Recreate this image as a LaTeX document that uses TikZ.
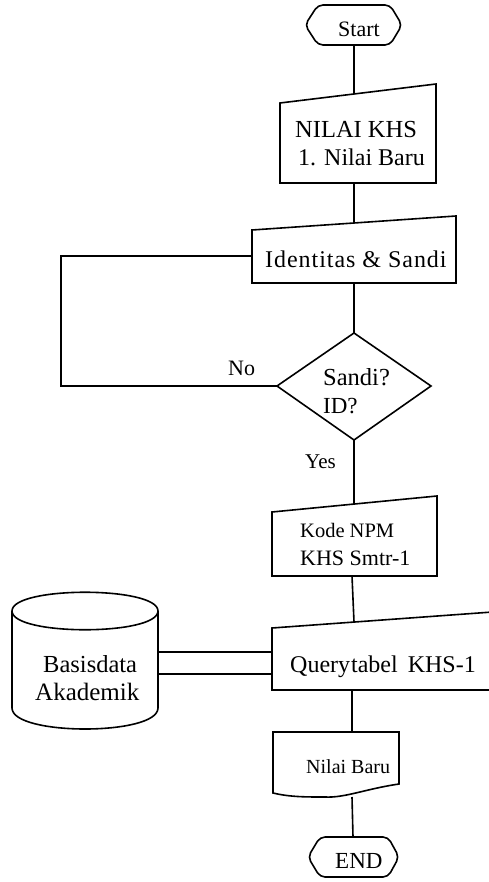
\documentclass[tikz,border=0pt]{standalone}
\usepackage{fontspec}
\setmainfont{Liberation Serif}
\tikzset{
  lbl/.style={anchor=base west, inner sep=0pt, font=\fontsize{#1}{#1}\selectfont},
  lbl/.default=23,
  shp/.style={line width=1.6pt, line join=miter},
  wire/.style={line width=1.6pt}
}
\begin{document}
\begin{tikzpicture}[x=1pt,y=-1pt]
\clip (0,0) rectangle (489,882);
% terminal Start
\draw[shp,rounded corners=5pt] (318,5)--(390,5)--(402,25)--(390,45)--(318,45)--(305,25)--cycle;
\node[lbl=22] (start) at (338,37) {Start};
\coordinate (startout) at (354,45);
% input NILAI KHS
\draw[shp] (280,103)--(436,84)--(436,183)--(280,183)--cycle;
\node[lbl=24.5] (nilaikhs) at (295,138) {NILAI KHS};
\node[lbl=24] (nilaibaru1) at (298,166) {1. Nilai Baru};
\coordinate (nkin) at (354,94);
\coordinate (nkout) at (354,183);
% input Identitas
\draw[shp] (252,230)--(456,216)--(456,283)--(252,283)--cycle;
\node[lbl=24] (ident) at (265,268) {\addfontfeature{LetterSpace=4}Identitas \& Sandi};
\coordinate (idin) at (354,223);
\coordinate (idout) at (354,283);
\coordinate (idleft) at (252,256);
% decision
\draw[shp] (354,333)--(431,386)--(354,440)--(277,386)--cycle;
\node[lbl=24.5] (sandi) at (323,385) {Sandi?};
\node[lbl] (idq) at (323,413) {ID?};
\coordinate (dectop) at (354,333);
\coordinate (decleft) at (277,386);
\coordinate (decbot) at (354,440);
\coordinate (loopa) at (61,386);
\coordinate (loopb) at (61,256);
\node[lbl=22] (no) at (228,375) {No};
\node[lbl=21] (yes) at (305,468) {Yes};
% input Kode NPM
\draw[shp] (272,512)--(437,496)--(437,576)--(272,576)--cycle;
\node[lbl=20.5] (kode) at (300,537) {Kode NPM};
\node[lbl=22] (smtr) at (300,565) {KHS Smtr-1};
\coordinate (kodein) at (354,504);
\coordinate (kodeout) at (352,576);
% query
\draw[shp] (272,628)--(520,610)--(520,690)--(272,690)--cycle;
\node[lbl=24] (query) at (290,672) {Query\hspace{1pt}tabel\hspace{10pt}KHS-1};
\coordinate (qin) at (354,622);
\coordinate (qout) at (352,690);
\coordinate (qa) at (272,652);
\coordinate (qb) at (272,674);
% database
\draw[shp] (12,611) .. controls (12,586) and (158,586) .. (158,611)
  .. controls (158,636) and (12,636) .. (12,611);
\draw[shp] (12,611)--(12,708) .. controls (12,736) and (158,736) .. (158,708)--(158,611);
\node[lbl=24.5] (basis) at (43,672) {Basisdata};
\node[lbl=25] (akad) at (35,700) {Akademik};
\coordinate (dba) at (159,652);
\coordinate (dbb) at (159,674);
% document Nilai Baru
\draw[shp] (273,732)--(399,732)--(399,784) .. controls (365,789) and (345,798) .. (325,797)
  .. controls (305,797) and (290,797) .. (273,793)--cycle;
\node[lbl=20] (baru) at (306,773) {Nilai Baru};
\coordinate (docin) at (352,732);
\coordinate (docout) at (352,797);
% terminal END
\draw[shp,rounded corners=5pt] (320,837)--(388,837)--(399,857)--(388,877)--(320,877)--(308,857)--cycle;
\node[lbl] (endn) at (335,868) {END};
\coordinate (endin) at (353,837);
% connectors
\draw[wire] (startout)--(nkin);
\draw[wire] (nkout)--(idin);
\draw[wire] (idout)--(dectop);
\draw[wire] (decleft)--(loopa)--(loopb)--(idleft);
\draw[wire] (decbot)--(kodein);
\draw[wire] (kodeout)--(qin);
\draw[wire] (dba)--(qa);
\draw[wire] (dbb)--(qb);
\draw[wire] (qout)--(docin);
\draw[wire] (docout)--(endin);
\end{tikzpicture}
\end{document}
